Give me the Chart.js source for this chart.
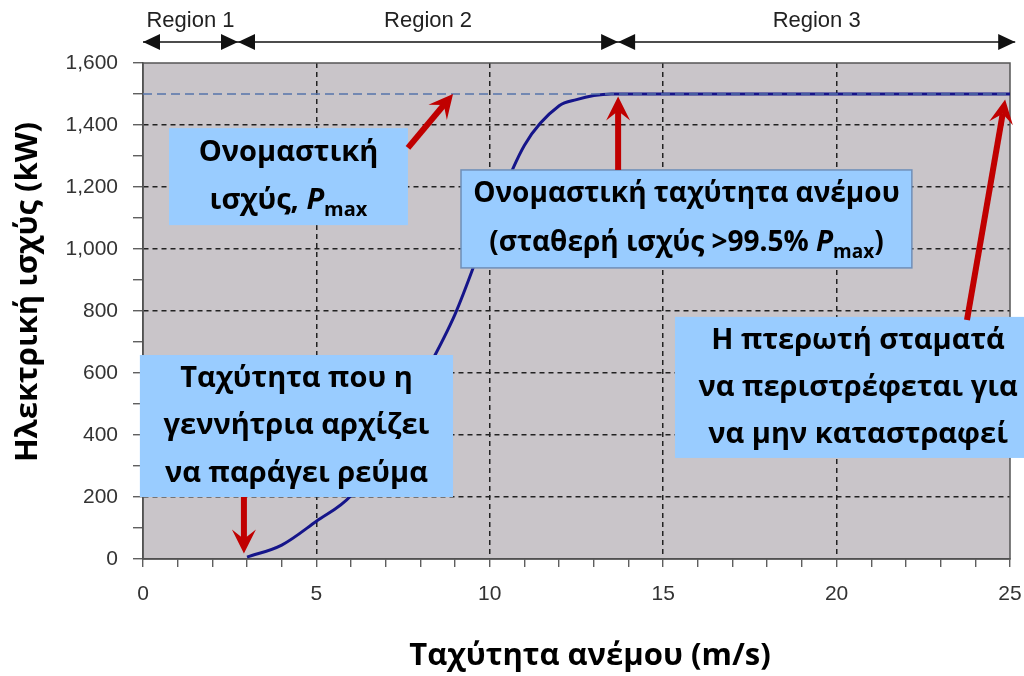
<!DOCTYPE html>
<html>
<head>
<meta charset="utf-8">
<script src="https://cdn.jsdelivr.net/npm/chart.js@4.4.1/dist/chart.umd.min.js"></script>
<style>
  html, body { margin: 0; padding: 0; background: #fff; }
  #wrap { width: 1024px; height: 676px; }
</style>
</head>
<body>
<div id="wrap"><canvas id="curva" width="1024" height="676"></canvas></div>
<script>
// Καμπύλη ισχύος ανεμογεννήτριας (τιμές διαβασμένες από την εικόνα)
const windSpeed = [3, 4, 5, 6, 7, 8, 9, 10, 11, 12, 12.5, 13, 13.5, 14, 15, 16, 17, 18, 19, 20, 21, 22, 23, 24, 25, 25.15];
const powerKW   = [6, 45, 122, 205, 370, 570, 790, 1080, 1335, 1462, 1482, 1495, 1500, 1500, 1500, 1500, 1500, 1500, 1500, 1500, 1500, 1500, 1500, 1500, 1500, 1420];

// Ονομαστική ισχύς (διακεκομμένη)
const ratedX = [0, 25];
const ratedY = [1500, 1500];

// Περιοχές λειτουργίας
const regionNames  = ['Region 1', 'Region 2', 'Region 3'];
const regionBounds = [0, 2.74, 13.7, 25.15];

const xTickLabels = [0, 5, 10, 15, 20, 25];

const xTitle = 'Ταχύτητα ανέμου (m/s)';
const yTitle = 'Ηλεκτρική ισχύς (kW)';

const FONT_BOLD = '"Open Sans", "Noto Sans", sans-serif';
const FONT_AXIS = '"Liberation Sans", Arial, sans-serif';

// σημειώσεις: κουτιά και κόκκινα βέλη σε συντεταγμένες δεδομένων
const boxes = [
    { x0: 0.75, x1: 7.64, y0: 1390, y1: 1077, border: false, size: 29,
      lines: [[{ t: 'Ονομαστική' }], [{ t: 'ισχύς, ' }, { t: 'P', italic: true }, { t: 'max', sub: true }]] },
    { x0: 9.17, x1: 22.17, y0: 1255, y1: 939, border: true, size: 28,
      lines: [[{ t: 'Ονομαστική ταχύτητα ανέμου' }], [{ t: '(σταθερή ισχύς >99.5% ' }, { t: 'P', italic: true }, { t: 'max', sub: true }, { t: ')' }]] },
    { x0: -0.09, x1: 8.94, y0: 658, y1: 200, border: false, size: 29,
      lines: [[{ t: 'Ταχύτητα που η' }], [{ t: 'γεννήτρια αρχίζει' }], [{ t: 'να παράγει ρεύμα' }]] },
    { x0: 15.34, x1: 25.9, y0: 781, y1: 326, border: false, size: 29,
      lines: [[{ t: 'Η πτερωτή σταματά' }], [{ t: 'να περιστρέφεται για' }], [{ t: 'να μην καταστραφεί' }]] }
];

const arrows = [
    { from: [7.64, 1326], to: [8.94, 1500] },
    { from: [13.7, 1255], to: [13.7, 1492] },
    { from: [23.76, 771], to: [24.86, 1482] },
    { from: [2.91, 200], to: [2.91, 18] }
];

function richLine(ctx, segs, cx, cy, size) {
    const fontFor = s => (s.italic ? 'italic ' : '') + 'bold ' + (s.sub ? Math.round(size * 0.68) : size) + 'px ' + FONT_BOLD;
    let total = 0;
    segs.forEach(s => { ctx.font = fontFor(s); s.w = ctx.measureText(s.t).width; total += s.w; });
    let x = cx - total / 2;
    ctx.textAlign = 'left';
    ctx.textBaseline = 'middle';
    segs.forEach(s => {
        ctx.font = fontFor(s);
        ctx.fillText(s.t, x, cy + (s.sub ? size * 0.32 : 0));
        x += s.w;
    });
}

function redArrow(ctx, x1, y1, x2, y2) {
    const ang = Math.atan2(y2 - y1, x2 - x1);
    const c = Math.cos(ang), s = Math.sin(ang);
    const head = 24, half = 12;
    const bx = x2 - head * c, by = y2 - head * s;
    ctx.save();
    ctx.strokeStyle = '#c00000';
    ctx.fillStyle = '#c00000';
    ctx.lineWidth = 6;
    ctx.beginPath();
    ctx.moveTo(x1, y1);
    ctx.lineTo(x2 - head * 0.6 * c, y2 - head * 0.6 * s);
    ctx.stroke();
    ctx.beginPath();
    ctx.moveTo(x2, y2);
    ctx.lineTo(bx + half * s, by - half * c);
    ctx.lineTo(x2 - head * 0.6 * c, y2 - head * 0.6 * s);
    ctx.lineTo(bx - half * s, by + half * c);
    ctx.closePath();
    ctx.fill();
    ctx.restore();
}

function blackHead(ctx, x, y, dir) {
    // dir: +1 hacia la derecha, -1 hacia la izquierda
    ctx.beginPath();
    ctx.moveTo(x, y);
    ctx.lineTo(x - dir * 17, y - 8);
    ctx.lineTo(x - dir * 17, y + 8);
    ctx.closePath();
    ctx.fill();
}

const decoPlugin = {
    id: 'deco',
    beforeDraw(chart) {
        const { ctx, chartArea: a } = chart;
        ctx.save();
        ctx.fillStyle = '#c9c5c9';
        ctx.fillRect(a.left, a.top, a.right - a.left, a.bottom - a.top);
        ctx.restore();
    },
    beforeDatasetsDraw(chart) {
        const { ctx, chartArea: a } = chart;
        ctx.save();
        ctx.strokeStyle = '#555';
        ctx.lineWidth = 1.5;
        ctx.strokeRect(a.left, a.top, a.right - a.left, a.bottom - a.top);
        ctx.restore();
    },
    afterDraw(chart) {
        const { ctx, scales: { x, y } } = chart;

        // títulos de los ejes
        ctx.save();
        ctx.fillStyle = '#000';
        ctx.font = 'bold 31px ' + FONT_BOLD;
        ctx.textAlign = 'center';
        ctx.textBaseline = 'middle';
        ctx.fillText(xTitle, 590, 656);
        ctx.translate(28, 292);
        ctx.rotate(-Math.PI / 2);
        ctx.fillText(yTitle, 0, 0);
        ctx.restore();

        // flechas de regiones arriba
        ctx.save();
        const ly = 42;
        ctx.strokeStyle = '#111';
        ctx.fillStyle = '#111';
        ctx.lineWidth = 1.5;
        ctx.beginPath();
        ctx.moveTo(x.getPixelForValue(regionBounds[0]), ly);
        ctx.lineTo(x.getPixelForValue(regionBounds[regionBounds.length - 1]), ly);
        ctx.stroke();
        ctx.font = '22px ' + FONT_AXIS;
        ctx.textAlign = 'center';
        ctx.textBaseline = 'middle';
        regionNames.forEach((name, i) => {
            const p0 = x.getPixelForValue(regionBounds[i]);
            const p1 = x.getPixelForValue(regionBounds[i + 1]);
            blackHead(ctx, p0, ly, -1);
            blackHead(ctx, p1, ly, 1);
            ctx.fillStyle = '#222';
            ctx.fillText(name, (p0 + p1) / 2, 21);
            ctx.fillStyle = '#111';
        });
        ctx.restore();

        // cajas azules
        boxes.forEach(b => {
            const px0 = x.getPixelForValue(b.x0), px1 = x.getPixelForValue(b.x1);
            const py0 = y.getPixelForValue(b.y0), py1 = y.getPixelForValue(b.y1);
            ctx.save();
            ctx.fillStyle = '#99ccff';
            ctx.fillRect(px0, py0, px1 - px0, py1 - py0);
            if (b.border) {
                ctx.strokeStyle = '#6f8fb8';
                ctx.lineWidth = 1.5;
                ctx.strokeRect(px0, py0, px1 - px0, py1 - py0);
            }
            ctx.fillStyle = '#000';
            const step = (py1 - py0) / b.lines.length;
            b.lines.forEach((ln, i) => richLine(ctx, ln, (px0 + px1) / 2, py0 + step * (i + 0.5), b.size));
            ctx.restore();
        });

        // flechas rojas
        arrows.forEach(a => {
            redArrow(ctx, x.getPixelForValue(a.from[0]), y.getPixelForValue(a.from[1]),
                          x.getPixelForValue(a.to[0]), y.getPixelForValue(a.to[1]));
        });
    }
};

const ctx = document.getElementById('curva').getContext('2d');

new Chart(ctx, {
    type: 'line',
    data: {
        datasets: [
            {
                label: 'Pmax',
                data: ratedX.map((v, i) => ({ x: v, y: ratedY[i] })),
                borderColor: '#5574aa',
                borderWidth: 1.5,
                borderDash: [9, 5],
                pointRadius: 0
            },
            {
                label: 'Ισχύς',
                data: windSpeed.map((v, i) => ({ x: v, y: powerKW[i] })),
                borderColor: '#15158a',
                borderWidth: 3,
                pointRadius: 0,
                cubicInterpolationMode: 'monotone',
                clip: 10
            }
        ]
    },
    options: {
        responsive: false,
        devicePixelRatio: 1,
        animation: false,
        layout: { padding: { top: 63, right: 14, left: 0, bottom: 0 } },
        plugins: {
            legend: { display: false },
            tooltip: { enabled: false }
        },
        scales: {
            x: {
                type: 'linear',
                min: 0,
                max: 25,
                afterFit: s => { s.height = 117; s.paddingRight = 0; s.paddingLeft = 0; },
                ticks: {
                    stepSize: 1,
                    autoSkip: false,
                    maxRotation: 0,
                    padding: 15,
                    color: '#333',
                    font: { family: FONT_AXIS, size: 21 },
                    callback: v => xTickLabels.includes(v) ? String(v) : ''
                },
                grid: {
                    color: c => (c.tick && c.tick.value % 5 === 0 && c.tick.value > 0 && c.tick.value < 25) ? '#222' : 'rgba(0,0,0,0)',
                    lineWidth: 1.5,
                    tickColor: '#444',
                    tickLength: 8,
                    tickWidth: 1.2
                },
                border: { color: '#444', width: 1.5, dash: [5, 4] }
            },
            y: {
                min: 0,
                max: 1600,
                afterFit: s => { s.width = 143; s.paddingTop = 0; s.paddingBottom = 0; },
                ticks: {
                    stepSize: 100,
                    autoSkip: false,
                    padding: 15,
                    color: '#333',
                    font: { family: FONT_AXIS, size: 21 },
                    callback: v => v % 200 === 0 ? v.toLocaleString('en-US') : ''
                },
                grid: {
                    color: c => (c.tick && c.tick.value % 200 === 0 && c.tick.value > 0 && c.tick.value < 1600) ? '#222' : 'rgba(0,0,0,0)',
                    lineWidth: 1.5,
                    tickColor: '#444',
                    tickLength: 10,
                    tickWidth: 1.2
                },
                border: { color: '#444', width: 1.5, dash: [5, 4] }
            }
        }
    },
    plugins: [decoPlugin]
});
</script>
</body>
</html>
